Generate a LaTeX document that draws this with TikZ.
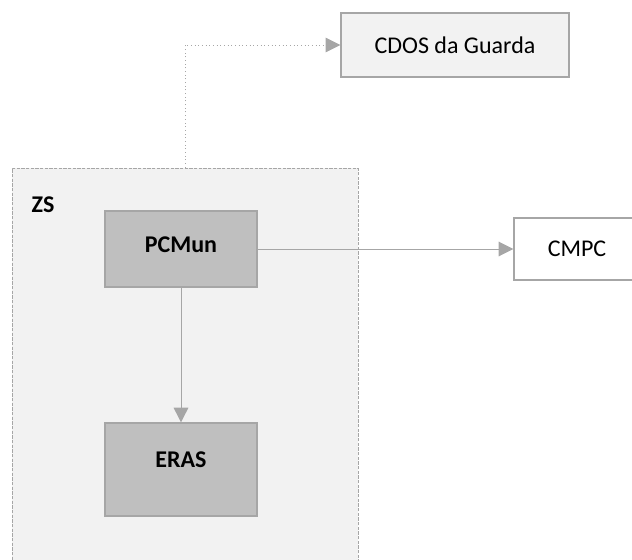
\documentclass[tikz,border=0pt]{standalone}
\usepackage{fontspec}
\setmainfont{Carlito}
\usetikzlibrary{arrows.meta}
\definecolor{linegray}{HTML}{A6A6A6}
\definecolor{paleback}{HTML}{F2F2F2}
\definecolor{unitfill}{HTML}{BFBFBF}
\begin{document}
\begin{tikzpicture}[x=0.75pt,y=-0.75pt,>={Triangle[length=11pt,width=11pt]},
        every node/.style={font=\fontsize{18}{22}\selectfont},
        unit/.style={rectangle,draw=linegray,fill=unitfill,line width=1pt,minimum width=114pt,font=\fontsize{18}{22}\selectfont\bfseries},
        outbox/.style={rectangle,draw=linegray,line width=1.1pt},
        conn/.style={->,draw=linegray,line width=0.75pt}]
        \clip (0,0) rectangle (632,560);
        \node[rectangle,draw=linegray,fill=paleback,dash pattern=on 2.5pt off 1pt,line width=0.75pt,minimum width=259.5pt,minimum height=295.5pt](zs) at (185,365){};
        \node[font=\fontsize{18}{22}\selectfont\bfseries](zslabel) at (43,205){ZS};
        \node[unit,minimum height=57pt,text depth=6pt](pcmun) at (181,249){PCMun};
        \node[unit,minimum height=69.75pt,text depth=15pt](eras) at (181,469.5){ERAS};
        \node[outbox,fill=paleback,minimum width=171pt,minimum height=48pt](cdos) at (455,45){CDOS da Guarda};
        \node[outbox,fill=white,minimum width=94.5pt,minimum height=46.5pt](cmpc) at (577,249){CMPC};
        \path (pcmun) edge[conn] (eras);
        \path (pcmun) edge[conn] (cmpc);
        \draw[conn,dotted,line width=0.6pt] (zs.north) |- (cdos.west);
    \end{tikzpicture}
\end{document}
